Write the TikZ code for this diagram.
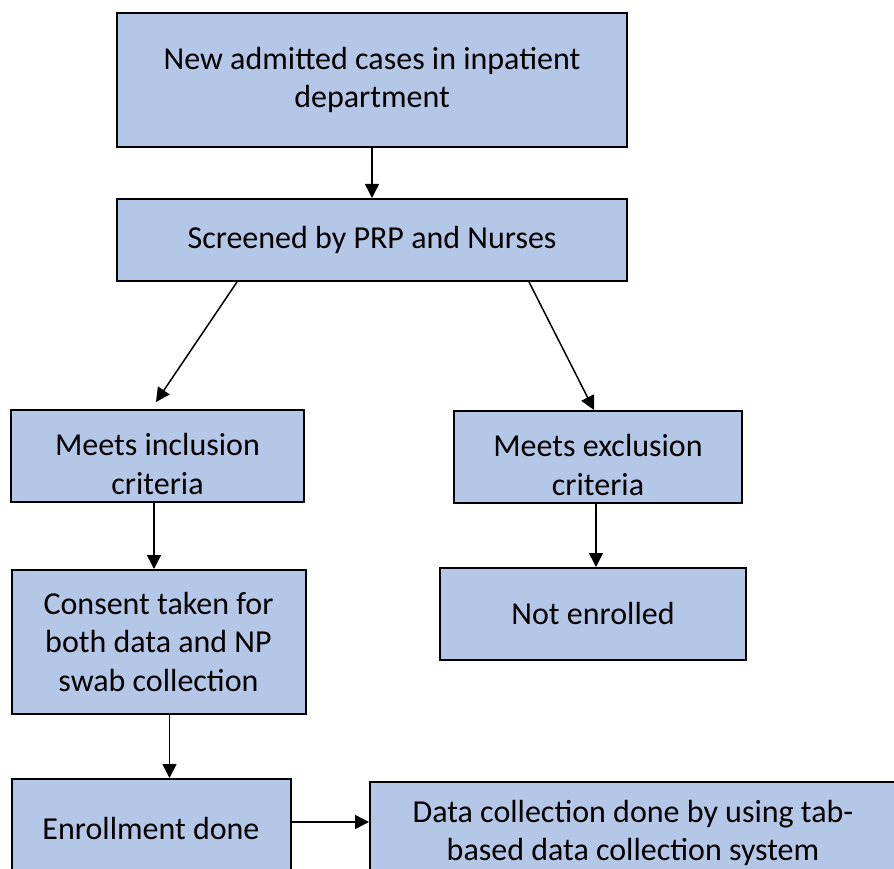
\documentclass[tikz,border=0pt]{standalone}
\usepackage{fontspec}
\setmainfont{Carlito}
\usetikzlibrary{arrows.meta,calc}
\definecolor{boxfill}{HTML}{B4C7E7}
\begin{document}
\begin{tikzpicture}[x=1pt,y=-1pt,
  txt/.style={align=center,inner sep=0pt,font=\fontsize{32}{38.5}\selectfont},
  box/.style={txt,draw=black,line width=2pt,fill=boxfill,rectangle},
  arr/.style={line width=1.5pt,-{Triangle[length=14pt,width=14pt]}}]
\clip (0,0) rectangle (894,869);
\fill[white] (0,0) rectangle (894,869);
\node[box,minimum width=510pt,minimum height=134pt] (b1) at (372,80) {New admitted cases in inpatient\\department};
\node[box,minimum width=510pt,minimum height=82pt] (b2) at (372,240) {Screened by PRP and Nurses};
\node[box,minimum width=293pt,minimum height=92pt] (b3) at (157.5,456) {};
\node[txt] (b3t) at ([yshift=-8pt]b3.center) {Meets inclusion\\criteria};
\node[box,minimum width=288pt,minimum height=92pt] (b4) at (598,457) {};
\node[txt] (b4t) at ([yshift=-8pt]b4.center) {Meets exclusion\\criteria};
\node[box,minimum width=294pt,minimum height=144pt] (b5) at (158.5,642) {Consent taken for\\both data and NP\\swab collection};
\node[box,minimum width=306pt,minimum height=92pt] (b6) at (593,614) {Not enrolled};
\node[box,minimum width=279pt,minimum height=98pt] (b7) at (151,828) {Enrollment done};
\node[box,minimum width=526pt,minimum height=102pt] (b8) at (633,833) {Data collection done by using tab-\\based data collection system};
\draw[arr] (b1.south) -- (b2.north);
\draw[arr] ([xshift=121pt]b2.south west) -- ([xshift=146pt,yshift=7pt]b3.north west);
\draw[arr] ([xshift=413pt]b2.south west) -- ([xshift=141pt]b4.north west);
\draw[arr] ([xshift=144pt]b3.south west) -- ([xshift=144pt]b3.south west |- b5.north);
\draw[arr] ([xshift=143pt]b4.south west) -- ([xshift=143pt]b4.south west |- b6.north);
\draw[arr] ([xshift=159pt]b5.south west) -- ([xshift=159pt]b5.south west |- b7.north);
\draw[arr] ([yshift=6pt]b7.east) -- ([yshift=11pt]b8.west);
\end{tikzpicture}
\end{document}
